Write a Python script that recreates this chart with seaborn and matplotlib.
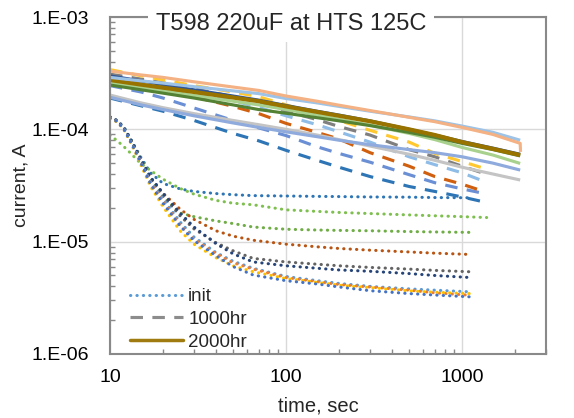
import matplotlib
matplotlib.use("Agg")
import matplotlib.pyplot as plt
import seaborn as sns
import pandas as pd
from matplotlib.ticker import FixedLocator, FixedFormatter, LogLocator, NullFormatter
from matplotlib.lines import Line2D

sns.set_style("white")
plt.rcParams['font.family'] = ['Liberation Sans', 'DejaVu Sans']

# ---------------- text ----------------
title = "T598 220uF at HTS 125C"
x_label = "time, sec"
y_label = "current, A"
legend_labels = ["init", "1000hr", "2000hr"]
x_tick_values = [10, 100, 1000]
x_tick_labels = ["10", "100", "1000"]
y_tick_values = [1e-6, 1e-5, 1e-4, 1e-3]
y_tick_labels = ["1.E-06", "1.E-05", "1.E-04", "1.E-03"]

# ---------------- init (dotted) ----------------
t_init = [10, 11, 12, 13, 14, 15, 17, 20, 25, 30, 40, 50, 65, 100, 150, 200, 300, 500, 700, 1100]
t_init_long = [10, 11, 12, 13, 14, 15, 17, 20, 25, 30, 40, 50, 65, 100, 150, 200, 300, 500, 700, 1000, 1380]

init_blue_flat = [1.27e-4, 1.19e-4, 1.04e-4, 8.4e-5, 6.8e-5, 5.6e-5, 4.1e-5, 3.3e-5, 2.95e-5, 2.8e-5, 2.68e-5, 2.62e-5, 2.57e-5, 2.55e-5, 2.53e-5, 2.52e-5, 2.5e-5, 2.49e-5, 2.47e-5, 2.46e-5]
init_green_upper = [8.9e-5, 7.9e-5, 7.0e-5, 6.2e-5, 5.5e-5, 4.95e-5, 4.3e-5, 3.6e-5, 2.98e-5, 2.65e-5, 2.33e-5, 2.2e-5, 2.13e-5, 1.92e-5, 1.86e-5, 1.82e-5, 1.78e-5, 1.73e-5, 1.7e-5, 1.67e-5, 1.64e-5]
init_green = [1.28e-4, 1.19e-4, 1.03e-4, 8.3e-5, 6.7e-5, 5.5e-5, 3.6e-5, 2.5e-5, 1.8e-5, 1.67e-5, 1.53e-5, 1.45e-5, 1.35e-5, 1.29e-5, 1.27e-5, 1.26e-5, 1.25e-5, 1.23e-5, 1.22e-5, 1.21e-5]
init_dark_orange = [1.28e-4, 1.18e-4, 1.02e-4, 8.2e-5, 6.6e-5, 5.3e-5, 3.7e-5, 2.7e-5, 1.95e-5, 1.58e-5, 1.25e-5, 1.12e-5, 1.03e-5, 9.5e-6, 9.0e-6, 8.7e-6, 8.4e-6, 8.1e-6, 7.9e-6, 7.7e-6]
init_dark_gray = [1.27e-4, 1.18e-4, 1.02e-4, 8.1e-5, 6.5e-5, 5.2e-5, 3.6e-5, 2.55e-5, 1.7e-5, 1.3e-5, 9.8e-6, 8.3e-6, 7.1e-6, 6.6e-6, 6.3e-6, 6.1e-6, 5.9e-6, 5.7e-6, 5.55e-6, 5.4e-6]
init_navy = [1.29e-4, 1.2e-4, 1.04e-4, 8.3e-5, 6.7e-5, 5.4e-5, 3.75e-5, 2.7e-5, 1.8e-5, 1.35e-5, 9.6e-6, 7.8e-6, 6.6e-6, 6.1e-6, 5.8e-6, 5.6e-6, 5.45e-6, 5.2e-6, 5.0e-6, 4.8e-6]
init_light_blue = [1.27e-4, 1.18e-4, 1.01e-4, 8.0e-5, 6.4e-5, 5.1e-5, 3.4e-5, 2.4e-5, 1.5e-5, 1.1e-5, 8.0e-6, 6.7e-6, 5.8e-6, 4.9e-6, 4.5e-6, 4.25e-6, 4.0e-6, 3.8e-6, 3.7e-6, 3.58e-6]
init_orange = [1.26e-4, 1.17e-4, 1.0e-4, 7.9e-5, 6.3e-5, 5.0e-5, 3.3e-5, 2.3e-5, 1.4e-5, 1.05e-5, 7.8e-6, 6.5e-6, 5.7e-6, 4.8e-6, 4.4e-6, 4.15e-6, 3.95e-6, 3.7e-6, 3.5e-6, 3.34e-6]
init_yellow = [1.25e-4, 1.16e-4, 9.9e-5, 7.8e-5, 6.1e-5, 4.8e-5, 3.1e-5, 2.05e-5, 1.25e-5, 9.5e-6, 7.2e-6, 6.1e-6, 5.4e-6, 4.7e-6, 4.35e-6, 4.1e-6, 3.9e-6, 3.65e-6, 3.55e-6, 3.45e-6]
init_blue = [1.26e-4, 1.17e-4, 1.0e-4, 7.9e-5, 6.3e-5, 5.0e-5, 3.25e-5, 2.2e-5, 1.38e-5, 1.02e-5, 7.5e-6, 6.0e-6, 5.05e-6, 4.49e-6, 4.2e-6, 3.95e-6, 3.66e-6, 3.45e-6, 3.35e-6, 3.23e-6]

# ---------------- 1000hr (dashed) ----------------
t_1000 = [10, 15, 20, 30, 50, 70, 100, 150, 200, 300, 500, 700, 1000, 1330]
h1000_blue = [1.9e-4, 1.62e-4, 1.45e-4, 1.2e-4, 9.2e-5, 7.9e-5, 6.5e-5, 5.3e-5, 4.6e-5, 3.8e-5, 3.1e-5, 2.8e-5, 2.5e-5, 2.26e-5]
h1000_mid_blue = [2.45e-4, 2.15e-4, 1.9e-4, 1.55e-4, 1.2e-4, 1.03e-4, 8.8e-5, 7.0e-5, 6.1e-5, 5.1e-5, 3.95e-5, 3.35e-5, 2.95e-5, 2.69e-5]
h1000_dark_orange = [2.9e-4, 2.55e-4, 2.3e-4, 1.95e-4, 1.6e-4, 1.38e-4, 1.13e-4, 9.4e-5, 8.2e-5, 6.2e-5, 4.7e-5, 3.8e-5, 3.25e-5, 2.8e-5]
h1000_light_blue = [3.0e-4, 2.7e-4, 2.5e-4, 2.15e-4, 1.8e-4, 1.57e-4, 1.32e-4, 1.1e-4, 9.5e-5, 7.7e-5, 5.7e-5, 4.85e-5, 4.1e-5, 3.45e-5]
h1000_gray = [3.1e-4, 2.8e-4, 2.6e-4, 2.3e-4, 1.95e-4, 1.75e-4, 1.45e-4, 1.22e-4, 1.06e-4, 8.9e-5, 6.6e-5, 5.7e-5, 4.7e-5, 4.06e-5]
h1000_yellow = [3.4e-4, 3.0e-4, 2.75e-4, 2.45e-4, 2.15e-4, 1.95e-4, 1.65e-4, 1.38e-4, 1.2e-4, 9.8e-5, 7.7e-5, 6.1e-5, 5.17e-5, 4.5e-5]

# ---------------- 2000hr (solid) ----------------
t_2000 = [10, 15, 20, 30, 50, 70, 100, 150, 200, 300, 500, 700, 1000, 1500, 2140]
t_2000_salmon = [10, 15, 20, 30, 50, 70, 100, 150, 200, 300, 500, 700, 1000, 1500, 2140, 2150]
h2000_salmon = [3.3e-4, 3.05e-4, 2.9e-4, 2.65e-4, 2.38e-4, 2.22e-4, 1.98e-4, 1.78e-4, 1.64e-4, 1.47e-4, 1.28e-4, 1.17e-4, 1.04e-4, 9.0e-5, 7.5e-5, 6.3e-5]
h2000_light_blue = [2.9e-4, 2.7e-4, 2.58e-4, 2.4e-4, 2.2e-4, 2.08e-4, 1.88e-4, 1.72e-4, 1.6e-4, 1.45e-4, 1.29e-4, 1.19e-4, 1.07e-4, 9.4e-5, 8.0e-5]
h2000_gold = [2.75e-4, 2.5e-4, 2.35e-4, 2.15e-4, 1.92e-4, 1.78e-4, 1.6e-4, 1.43e-4, 1.32e-4, 1.18e-4, 1.0e-4, 8.9e-5, 7.7e-5, 6.7e-5, 5.9e-5]
h2000_dark_blue = [2.99e-4, 2.7e-4, 2.5e-4, 2.25e-4, 1.98e-4, 1.82e-4, 1.63e-4, 1.45e-4, 1.34e-4, 1.19e-4, 1.0e-4, 8.9e-5, 7.8e-5, 6.8e-5, 6.0e-5]
h2000_dark_green = [2.48e-4, 2.25e-4, 2.1e-4, 1.9e-4, 1.65e-4, 1.5e-4, 1.39e-4, 1.27e-4, 1.19e-4, 1.08e-4, 9.4e-5, 8.5e-5, 7.5e-5, 6.6e-5, 5.8e-5]
h2000_light_green = [2.6e-4, 2.35e-4, 2.2e-4, 2.0e-4, 1.78e-4, 1.65e-4, 1.5e-4, 1.34e-4, 1.23e-4, 1.09e-4, 9.2e-5, 8.1e-5, 6.9e-5, 5.9e-5, 4.97e-5]
h2000_periwinkle = [1.93e-4, 1.65e-4, 1.5e-4, 1.32e-4, 1.14e-4, 1.04e-4, 9.5e-5, 8.6e-5, 8.0e-5, 7.3e-5, 6.6e-5, 6.2e-5, 5.7e-5, 5.0e-5, 4.34e-5]
h2000_light_gray = [2.02e-4, 1.72e-4, 1.56e-4, 1.38e-4, 1.2e-4, 1.1e-4, 1.0e-4, 8.9e-5, 8.1e-5, 7.1e-5, 6.0e-5, 5.3e-5, 4.6e-5, 4.0e-5, 3.54e-5]

# series: (times, values, colour, group)
series = [
    (t_init, init_blue_flat, "#2E75B6", "init"),
    (t_init_long, init_green_upper, "#7FBF50", "init"),
    (t_init, init_green, "#70AD47", "init"),
    (t_init, init_dark_orange, "#B85514", "init"),
    (t_init, init_dark_gray, "#636363", "init"),
    (t_init, init_navy, "#264478", "init"),
    (t_init, init_light_blue, "#5B9BD5", "init"),
    (t_init, init_orange, "#ED7D31", "init"),
    (t_init, init_yellow, "#FFC000", "init"),
    (t_init, init_blue, "#4472C4", "init"),
    (t_1000, h1000_blue, "#2E75B6", "1000hr"),
    (t_1000, h1000_mid_blue, "#6A8FD4", "1000hr"),
    (t_1000, h1000_dark_orange, "#D0600F", "1000hr"),
    (t_1000, h1000_light_blue, "#8EBCE6", "1000hr"),
    (t_1000, h1000_gray, "#7F7F7F", "1000hr"),
    (t_1000, h1000_yellow, "#FFC830", "1000hr"),
    (t_2000, h2000_light_gray, "#C4C4C4", "2000hr"),
    (t_2000, h2000_periwinkle, "#8FAADC", "2000hr"),
    (t_2000, h2000_light_green, "#A9D18E", "2000hr"),
    (t_2000, h2000_dark_green, "#548235", "2000hr"),
    (t_2000, h2000_dark_blue, "#2F5597", "2000hr"),
    (t_2000, h2000_gold, "#997300", "2000hr"),
    (t_2000, h2000_light_blue, "#9DC3E6", "2000hr"),
    (t_2000_salmon, h2000_salmon, "#F4B183", "2000hr"),
]

styles = {
    "init": dict(linestyle=(0, (0.1, 2.0)), lw=2.2, dash_capstyle="round"),
    "1000hr": dict(linestyle=(0, (4, 3)), lw=2.25, dash_capstyle="butt"),
    "2000hr": dict(linestyle="-", lw=2.25, solid_capstyle="butt"),
}

W, H = 574, 418
fig = plt.figure(figsize=(W / 100, H / 100), dpi=100)
ax = fig.add_axes([110 / W, 1 - 354 / H, (546 - 110) / W, (354 - 17) / H])

for i, (tt, vv, col, grp) in enumerate(series):
    df = pd.DataFrame({"time": tt, "current": vv})
    kw = dict(styles[grp])
    if col == "#997300":
        kw["lw"] = 3.0
    sns.lineplot(data=df, x="time", y="current", ax=ax, color=col, sort=False,
                 estimator=None, legend=False, **kw)

ax.set_xscale("log")
ax.set_yscale("log")
ax.set_xlim(10, 3000)
ax.set_ylim(1e-6, 1e-3)

ax.xaxis.set_major_locator(FixedLocator(x_tick_values))
ax.xaxis.set_major_formatter(FixedFormatter(x_tick_labels))
ax.yaxis.set_major_locator(FixedLocator(y_tick_values))
ax.yaxis.set_major_formatter(FixedFormatter(y_tick_labels))
ax.xaxis.set_minor_locator(LogLocator(base=10, subs=range(2, 10), numticks=20))
ax.yaxis.set_minor_locator(LogLocator(base=10, subs=range(2, 10), numticks=20))
ax.xaxis.set_minor_formatter(NullFormatter())
ax.yaxis.set_minor_formatter(NullFormatter())

spine_col = "#898989"
ax.tick_params(axis="both", which="major", length=0, labelsize=14, colors="black")
ax.tick_params(axis="x", which="major", pad=10.5)
ax.tick_params(axis="y", which="major", pad=15)
ax.tick_params(axis="both", which="minor", direction="in", length=3.6, width=1.0,
               color=spine_col, bottom=True, left=True, top=False, right=False)

ax.grid(True, which="major", color="#D9D9D9", lw=1.0)
ax.set_axisbelow(True)
for s in ax.spines.values():
    s.set_color(spine_col)
    s.set_linewidth(1.5)

ax.set_xlabel(x_label, fontsize=14.5, va="baseline")
ax.xaxis.set_label_coords((318 - 110) / 436, (354 - 411) / 337)
ax.set_ylabel(y_label, fontsize=14, va="center")
ax.yaxis.set_label_coords((21 - 110) / 436, 0.5)

fig.text(291 / W, 1 - 29.5 / H, title, ha="center", va="baseline", fontsize=17,
         bbox=dict(facecolor="white", edgecolor="none", pad=5.5))

handles = [
    Line2D([], [], color="#5B9BD5", **styles["init"]),
    Line2D([], [], color="#8C8C8C", **styles["1000hr"]),
    Line2D([], [], color="#A07C10", linestyle="-", lw=2.5),
]
ax.legend(handles, legend_labels, loc="upper left",
          bbox_to_anchor=(130 / W, 1 - 288 / H), bbox_transform=fig.transFigure,
          frameon=False, fontsize=13.5, handlelength=2.85, handletextpad=0.25,
          labelspacing=0.3, borderpad=0, borderaxespad=0)

fig.savefig("out.png", dpi=100)
